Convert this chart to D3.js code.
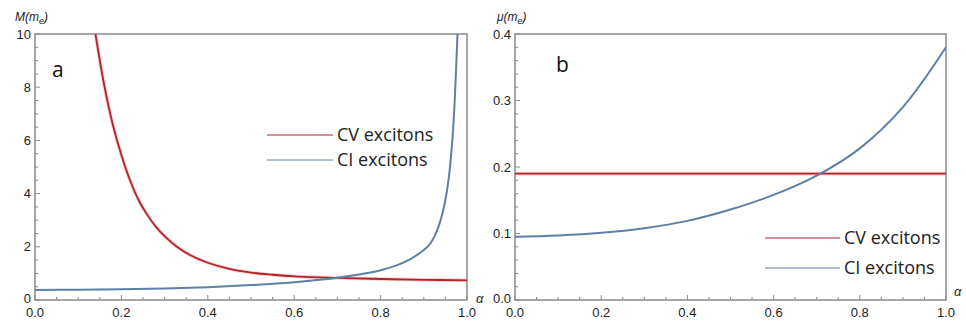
<!DOCTYPE html>
<html>
<head>
<meta charset="utf-8">
<script src="https://cdn.jsdelivr.net/npm/d3@7"></script>
<style>
  body { margin: 0; background: #fff; }
  svg { display: block; }
  .tick-label { font-family: "Liberation Sans", Arial, sans-serif; font-size: 13px; fill: #222; }
  .legend-text { font-family: "Open Sans", sans-serif; font-size: 18px; fill: #222; }
</style>
</head>
<body>
<div id="chart"></div>
<script>
// values
// panel a: exciton mass M (in m_e) against alpha
const cvAlphaA = [0.14, 0.16, 0.18, 0.2, 0.22, 0.24, 0.26, 0.28, 0.3, 0.33, 0.36, 0.4, 0.45, 0.5, 0.55, 0.6, 0.7, 0.8, 0.9, 1.0];
const cvMassA  = [10, 8.1, 6.6, 5.45, 4.5, 3.75, 3.2, 2.75, 2.4, 1.98, 1.68, 1.4, 1.17, 1.03, 0.95, 0.89, 0.83, 0.79, 0.76, 0.74];
const ciAlphaA = [0, 0.1, 0.2, 0.3, 0.4, 0.5, 0.6, 0.65, 0.7, 0.75, 0.8, 0.84, 0.87, 0.9, 0.914, 0.925, 0.937, 0.948, 0.955, 0.96, 0.966, 0.971, 0.977, 0.978];
const ciMassA  = [0.38, 0.385, 0.4, 0.43, 0.48, 0.56, 0.67, 0.75, 0.84, 0.96, 1.12, 1.32, 1.55, 1.88, 2.1, 2.4, 2.9, 3.6, 4.25, 4.9, 6.0, 7.3, 9.6, 10];

// panel b: reduced mass mu (in m_e) against alpha
const cvAlphaB = [0, 1];
const cvMuB    = [0.19, 0.19];
const ciAlphaB = [0, 0.1, 0.2, 0.3, 0.4, 0.5, 0.6, 0.7, 0.8, 0.9, 1.0];
const ciMuB    = [0.095, 0.097, 0.101, 0.108, 0.119, 0.136, 0.158, 0.187, 0.228, 0.29, 0.38];

const xTicks = [0, 0.2, 0.4, 0.6, 0.8, 1.0];
const yTicksA = [0, 2, 4, 6, 8, 10];
const yTicksB = [0, 0.1, 0.2, 0.3, 0.4];
const seriesNames = ["CV excitons", "CI excitons"];

const redCol = "#b0242b";
const blueCol = "#5f7fa6";
const frameCol = "#8a8a8a";

const svg = d3.select("#chart").append("svg")
    .attr("width", 966)
    .attr("height", 322);

function toPoints(xs, ys) {
    return xs.map((x, i) => ({ x: x, y: ys[i] }));
}

function drawPanel(opt) {
    let left = opt.left, right = opt.right, top = 34, bottom = 300;

    let x = d3.scaleLinear().domain([0, 1]).range([left, right]);
    let y = d3.scaleLinear().domain(opt.yDomain).range([bottom, top]);

    let g = svg.append("g");

    // clip so the curves stop at the frame
    g.append("clipPath").attr("id", opt.id + "-clip")
        .append("rect")
        .attr("x", left).attr("y", top)
        .attr("width", right - left).attr("height", bottom - top);

    // x ticks, pointing inward like mathematica frames
    d3.range(0, 21).forEach(i => {
        let v = i * 0.05;
        let major = i % 4 === 0;
        g.append("line")
            .attr("x1", x(v)).attr("x2", x(v))
            .attr("y1", bottom).attr("y2", bottom - (major ? 5 : 3))
            .attr("stroke", frameCol).attr("stroke-width", 1);
    });
    xTicks.forEach(v => {
        g.append("text").attr("class", "tick-label")
            .attr("x", x(v)).attr("y", bottom + 17)
            .attr("text-anchor", "middle")
            .text(d3.format(".1f")(v));
    });

    // y ticks
    let nMinor = Math.round((opt.yDomain[1] - opt.yDomain[0]) / opt.yMinor);
    d3.range(0, nMinor + 1).forEach(i => {
        let v = opt.yDomain[0] + i * opt.yMinor;
        let major = i % opt.minorPerMajor === 0;
        g.append("line")
            .attr("x1", left).attr("x2", left + (major ? 5 : 3))
            .attr("y1", y(v)).attr("y2", y(v))
            .attr("stroke", frameCol).attr("stroke-width", 1);
    });
    opt.yTicks.forEach(v => {
        g.append("text").attr("class", "tick-label")
            .attr("x", left - 4).attr("y", y(v) + (v === 0 ? 3 : 4.5))
            .attr("text-anchor", "end")
            .text(opt.yFormat(v));
    });

    // frame
    g.append("rect")
        .attr("x", left).attr("y", top)
        .attr("width", right - left).attr("height", bottom - top)
        .attr("fill", "none")
        .attr("stroke", frameCol)
        .attr("stroke-width", 1.5);

    let line = d3.line()
        .x(d => x(d.x))
        .y(d => y(d.y))
        .curve(d3.curveCatmullRom.alpha(0.5));

    let curves = g.append("g").attr("clip-path", "url(#" + opt.id + "-clip)");
    // soft red halo under the red curve
    curves.append("path")
        .datum(opt.red)
        .attr("d", line)
        .attr("fill", "none")
        .attr("stroke", "#f5a5a5")
        .attr("stroke-width", 3.6)
        .attr("opacity", 0.55);
    curves.append("path")
        .datum(opt.red)
        .attr("d", line)
        .attr("fill", "none")
        .attr("stroke", redCol)
        .attr("stroke-width", 1.8);
    curves.append("path")
        .datum(opt.blue)
        .attr("d", line)
        .attr("fill", "none")
        .attr("stroke", blueCol)
        .attr("stroke-width", 2);

    // axis titles
    let lab = g.append("text")
        .attr("x", opt.labX).attr("y", 21)
        .style("font-family", "'Liberation Sans', Arial, sans-serif")
        .style("font-size", "12px")
        .style("font-style", "italic")
        .attr("fill", "#222");
    lab.append("tspan").text(opt.yLabel + "(m");
    lab.append("tspan").attr("dy", 3).style("font-size", "9px").text("e");
    lab.append("tspan").attr("dy", -3).text(")");

    g.append("text")
        .attr("x", opt.alphaX).attr("y", opt.alphaY)
        .style("font-family", "'Liberation Sans', Arial, sans-serif")
        .style("font-size", "13px")
        .style("font-style", "italic")
        .attr("fill", "#222")
        .text("α");

    // panel letter
    g.append("text")
        .attr("x", opt.letterX).attr("y", opt.letterY)
        .style("font-family", "'Open Sans', sans-serif")
        .style("font-size", "21px")
        .attr("fill", "#111")
        .text(opt.letter);

    // legend
    let cols = [redCol, blueCol];
    seriesNames.forEach((name, i) => {
        let ly = opt.legY + i * opt.legGap;
        g.append("line")
            .attr("x1", opt.legX).attr("x2", opt.legX + opt.legLen)
            .attr("y1", ly).attr("y2", ly)
            .attr("stroke", cols[i]).attr("stroke-width", 1);
        g.append("text").attr("class", "legend-text")
            .attr("x", opt.legX + opt.legLen + 4).attr("y", ly + 6)
            .text(name);
    });
}

drawPanel({
    id: "a", left: 35, right: 467,
    yDomain: [0, 10], yTicks: yTicksA, yMinor: 0.5, minorPerMajor: 4,
    yFormat: d3.format("d"),
    red: toPoints(cvAlphaA, cvMassA),
    blue: toPoints(ciAlphaA, ciMassA),
    yLabel: "M", labX: 15,
    alphaX: 476, alphaY: 303,
    letter: "a", letterX: 52, letterY: 77,
    legX: 267, legLen: 66, legY: 135, legGap: 25
});

drawPanel({
    id: "b", left: 515, right: 946,
    yDomain: [0, 0.4], yTicks: yTicksB, yMinor: 0.02, minorPerMajor: 5,
    yFormat: d3.format(".1f"),
    red: toPoints(cvAlphaB, cvMuB),
    blue: toPoints(ciAlphaB, ciMuB),
    yLabel: "μ", labX: 497,
    alphaX: 954, alphaY: 296,
    letter: "b", letterX: 556, letterY: 72,
    legX: 765, legLen: 75, legY: 238, legGap: 30
});
</script>
</body>
</html>
